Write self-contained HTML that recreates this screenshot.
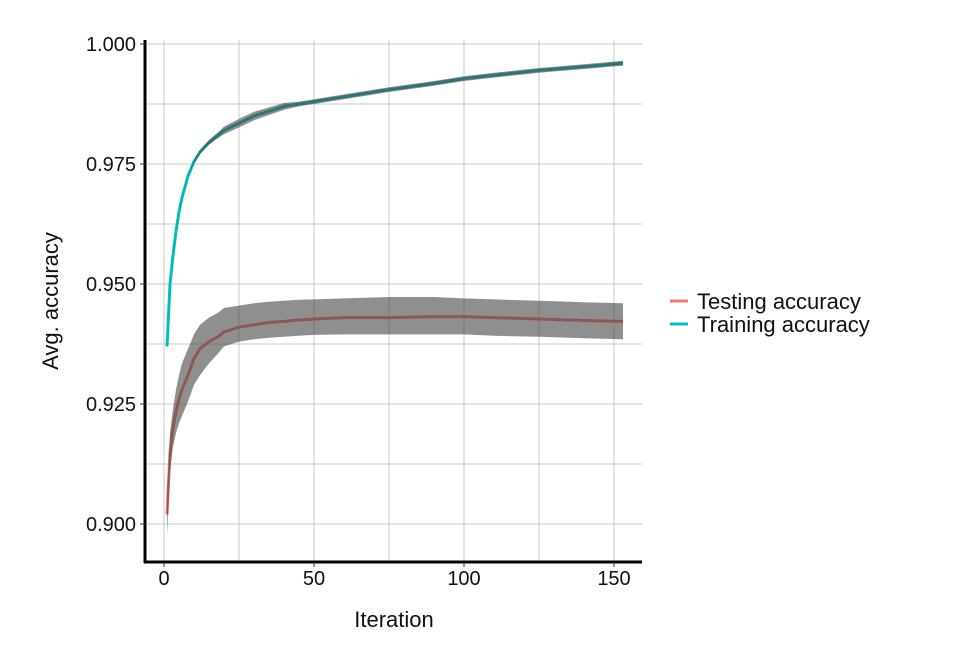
<!DOCTYPE html>
<html><head><meta charset="utf-8"><style>
body{margin:0;background:#fff;}
svg{display:block;font-family:"Liberation Sans",sans-serif;}
</style></head><body>
<svg id="chart" width="960" height="672" viewBox="0 0 960 672"></svg>
<script>
const iterations=[1,2,3,4,5,6,8,10,12,15,18,20,25,30,35,40,45,50,60,75,90,100,110,125,140,153];
const trainMean=[0.937,0.950,0.956,0.961,0.965,0.968,0.9725,0.9755,0.9775,0.9795,0.981,0.982,0.9835,0.985,0.986,0.987,0.9875,0.988,0.989,0.9905,0.9918,0.9928,0.9935,0.9945,0.9953,0.996];
const trainLo=[0.9369,0.9499,0.9559,0.9609,0.9649,0.9679,0.9724,0.9752,0.9771,0.979,0.9804,0.9812,0.9826,0.9841,0.9852,0.9863,0.9870,0.9875,0.9885,0.9900,0.9913,0.9923,0.9930,0.9940,0.9948,0.9955];
const trainHi=[0.9371,0.9501,0.9561,0.9611,0.9651,0.9681,0.9726,0.9758,0.9779,0.980,0.9816,0.9828,0.9844,0.9859,0.9868,0.9877,0.9880,0.9885,0.9895,0.9910,0.9923,0.9933,0.9940,0.9950,0.9958,0.9965];
const testMean=[0.902,0.915,0.920,0.9235,0.926,0.928,0.931,0.9345,0.9365,0.938,0.939,0.940,0.941,0.9415,0.942,0.9422,0.9425,0.9427,0.943,0.943,0.9432,0.9432,0.943,0.9427,0.9424,0.9422];
const testLo=[0.8975,0.911,0.916,0.919,0.921,0.9225,0.9255,0.929,0.931,0.9335,0.9355,0.937,0.938,0.9385,0.9388,0.939,0.9392,0.9394,0.9395,0.9395,0.9395,0.9395,0.9392,0.939,0.9387,0.9385];
const testHi=[0.906,0.919,0.924,0.928,0.931,0.9335,0.9365,0.9395,0.9415,0.943,0.944,0.945,0.9455,0.946,0.9463,0.9465,0.9467,0.9468,0.947,0.9473,0.9473,0.947,0.9468,0.9465,0.9462,0.946];
const xTicks=[0,50,100,150];
const yTicks=[0.900,0.925,0.950,0.975,1.000];
const xMinor=[25,75,125];
const yMinor=[0.9125,0.9375,0.9625,0.9875];

const NS="http://www.w3.org/2000/svg";
const svg=document.getElementById('chart');
const X=v=>164+3*v;
const Y=v=>524-(v-0.9)*4800;
function mk(tag,attrs,parent){const e=document.createElementNS(NS,tag);for(const k in attrs)e.setAttribute(k,attrs[k]);(parent||svg).appendChild(e);return e;}

xTicks.concat(xMinor).forEach(t=>{const l=mk('line',{x1:X(t),x2:X(t),y1:40,y2:562,stroke:'#c8c8c8','stroke-width':1});

});
yTicks.concat(yMinor).forEach(t=>{const l=mk('line',{x1:145,x2:642,y1:Y(t),y2:Y(t),stroke:'#c8c8c8','stroke-width':1});

});

function linePath(m){return iterations.map((x,i)=>(i?'L':'M')+X(x).toFixed(1)+','+Y(m[i]).toFixed(1)).join('');}
function bandPath(lo,hi){let d=iterations.map((x,i)=>(i?'L':'M')+X(x).toFixed(1)+','+Y(hi[i]).toFixed(1)).join('');
for(let i=iterations.length-1;i>=0;i--)d+='L'+X(iterations[i]).toFixed(1)+','+Y(lo[i]).toFixed(1);return d+'Z';}

const tl=mk('path',{d:linePath(testMean),fill:'none',stroke:'#f8766d','stroke-width':3});


const rl=mk('path',{d:linePath(trainMean),fill:'none',stroke:'#00bfc4','stroke-width':3});


const tb=mk('path',{d:bandPath(testLo,testHi),fill:'#444','fill-opacity':0.6});


const rb=mk('path',{d:bandPath(trainLo,trainHi),fill:'#444','fill-opacity':0.6});



const ya=mk('line',{x1:145,x2:145,y1:40,y2:563,stroke:'#000','stroke-width':3});


const xa=mk('line',{x1:144,x2:642,y1:562,y2:562,stroke:'#000','stroke-width':3});



xTicks.forEach(t=>{const tk=mk('line',{x1:X(t),x2:X(t),y1:562,y2:567,stroke:'#333'});


const tx=mk('text',{x:X(t),y:585,'text-anchor':'middle','font-size':20,fill:'#111'});tx.textContent=t;

});
yTicks.forEach(t=>{const tk=mk('line',{x1:140,x2:145,y1:Y(t),y2:Y(t),stroke:'#333'});


const tx=mk('text',{x:136,y:Y(t)+7,'text-anchor':'end','font-size':20,fill:'#111'});tx.textContent=t.toFixed(3);

});
</script>
<svg style="position:absolute;left:0;top:0" width="960" height="672">
<text x="394" y="627" text-anchor="middle" font-size="22" fill="#111" font-family="Liberation Sans,sans-serif">Iteration</text>
<text transform="translate(58,301) rotate(-90)" text-anchor="middle" font-size="22" fill="#111" font-family="Liberation Sans,sans-serif">Avg. accuracy</text>
<g>
<line x1="670" x2="688" y1="301" y2="301" stroke="#f8766d" stroke-width="3"/>
<text x="697" y="309" font-size="22" fill="#111" font-family="Liberation Sans,sans-serif">Testing accuracy</text>
<line x1="670" x2="688" y1="324" y2="324" stroke="#00bfc4" stroke-width="3"/>
<text x="697" y="332" font-size="22" fill="#111" font-family="Liberation Sans,sans-serif">Training accuracy</text>
</g>
</svg>
</body></html>
